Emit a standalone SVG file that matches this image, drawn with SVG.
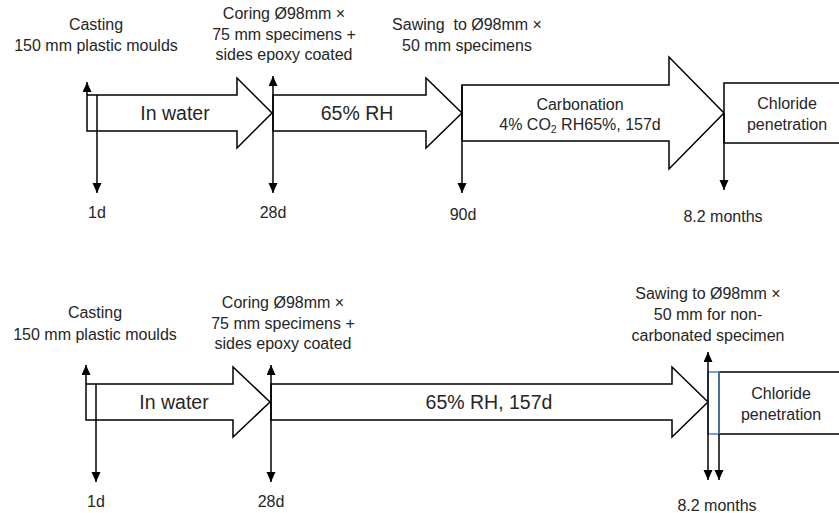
<svg xmlns="http://www.w3.org/2000/svg" width="839" height="513" viewBox="0 0 839 513">
  <style>
    text { font-family: "Liberation Sans", Arial, sans-serif; fill: #262626; text-anchor: middle; white-space: pre; }
    .sm { font-size: 16px; }
    .lg { font-size: 19.5px; }
    .sub { font-size: 10.5px; }
    .blk { fill: #fff; stroke: #000; stroke-width: 1.5; stroke-linejoin: miter; }
    .box { fill: #fff; stroke: #000; stroke-width: 1.5; }
    .cut { fill: none; stroke: #4f81bd; stroke-width: 1.5; }
    .tick { fill: none; stroke: #000; stroke-width: 1.5; }
  </style>
  <defs>
    <marker id="head" markerUnits="userSpaceOnUse" markerWidth="10" markerHeight="10" refX="10" refY="4.5" orient="auto-start-reverse">
      <path d="M0,0 L10,4.5 L0,9 Z" fill="#000"/>
    </marker>
  </defs>
  <rect width="839" height="513" fill="#fff"/>

  <!-- ===== Upper timeline: carbonated specimens ===== -->
  <g id="top-casting">
    <text class="sm" x="96" y="30">Casting</text>
    <text class="sm" x="96" y="50.5">150 mm plastic moulds</text>
  </g>
  <g id="top-coring">
    <text class="sm" x="284" y="19">Coring Ø98mm ×</text>
    <text class="sm" x="284" y="39.5">75 mm specimens +</text>
    <text class="sm" x="284" y="60">sides epoxy coated</text>
  </g>
  <g id="top-sawing">
    <text class="sm" x="467" y="30">Sawing  to Ø98mm ×</text>
    <text class="sm" x="467" y="50.5">50 mm specimens</text>
  </g>
  <g id="top-water">
    <path class="blk" d="M87,95 H237 V78 L272,113 L237,148 V131 H87 Z"/>
    <text class="lg" x="175" y="120">In water</text>
  </g>
  <g id="top-rh">
    <path class="blk" d="M273,95 H426 V78 L462,113 L426,148 V131 H273 Z"/>
    <text class="lg" x="357" y="120">65% RH</text>
  </g>
  <g id="top-carbonation">
    <path class="blk" d="M462,85 H669 V57 L724,113 L669,169 V141 H462 Z"/>
    <text class="sm" x="580" y="110">Carbonation</text>
    <text class="sm" x="580" y="130">4% CO<tspan class="sub" dy="3">2</tspan><tspan dy="-3"> RH65%, 157d</tspan></text>
  </g>
  <g id="top-chloride">
    <rect class="box" x="724" y="83" width="130" height="60"/>
    <text class="sm" x="787" y="109">Chloride</text>
    <text class="sm" x="787" y="130">penetration</text>
  </g>
  <g id="top-times">
    <text class="sm" x="97" y="218">1d</text>
    <text class="sm" x="273" y="218">28d</text>
    <text class="sm" x="463" y="220">90d</text>
    <text class="sm" x="723" y="222">8.2 months</text>
  </g>

  <!-- ===== Lower timeline: non-carbonated specimens ===== -->
  <g id="bot-casting">
    <text class="sm" x="95" y="318">Casting</text>
    <text class="sm" x="95" y="339.5">150 mm plastic moulds</text>
  </g>
  <g id="bot-coring">
    <text class="sm" x="283" y="308">Coring Ø98mm ×</text>
    <text class="sm" x="283" y="328.5">75 mm specimens +</text>
    <text class="sm" x="283" y="349">sides epoxy coated</text>
  </g>
  <g id="bot-sawing">
    <text class="sm" x="708" y="299">Sawing to Ø98mm ×</text>
    <text class="sm" x="708" y="320">50 mm for non-</text>
    <text class="sm" x="708" y="341">carbonated specimen</text>
  </g>
  <g id="bot-water">
    <path class="blk" d="M86,384 H233 V367 L270,402 L233,437 V420 H86 Z"/>
    <text class="lg" x="174" y="409">In water</text>
  </g>
  <g id="bot-rh">
    <path class="blk" d="M271,384 H672 V367 L708,402 L672,437 V420 H271 Z"/>
    <text class="lg" x="489" y="409">65% RH, 157d</text>
  </g>
  <g id="bot-chloride">
    <rect class="box" x="719" y="372" width="135" height="62"/>
    <rect class="cut" x="708" y="372" width="11" height="62"/>
    <text class="sm" x="781" y="399">Chloride</text>
    <text class="sm" x="781" y="420">penetration</text>
  </g>
  <g id="bot-times">
    <text class="sm" x="96" y="507">1d</text>
    <text class="sm" x="271" y="507">28d</text>
    <text class="sm" x="717" y="511">8.2 months</text>
  </g>

  <!-- ===== Time markers ===== -->
  <g id="connectors" class="tick">
    <line x1="87" y1="95" x2="87" y2="82" marker-end="url(#head)"/>
    <line x1="97" y1="95" x2="97" y2="193" marker-end="url(#head)"/>
    <line x1="273" y1="76" x2="273" y2="193" marker-start="url(#head)" marker-end="url(#head)"/>
    <line x1="462" y1="85" x2="462" y2="193" marker-end="url(#head)"/>
    <line x1="724" y1="113" x2="724" y2="190" marker-end="url(#head)"/>

    <line x1="86" y1="384" x2="86" y2="365" marker-end="url(#head)"/>
    <line x1="96" y1="384" x2="96" y2="482" marker-end="url(#head)"/>
    <line x1="271" y1="365" x2="271" y2="482" marker-start="url(#head)" marker-end="url(#head)"/>
    <line x1="708" y1="352" x2="708" y2="480" marker-start="url(#head)" marker-end="url(#head)"/>
    <line x1="719" y1="434" x2="719" y2="480" marker-end="url(#head)"/>
  </g>
</svg>
